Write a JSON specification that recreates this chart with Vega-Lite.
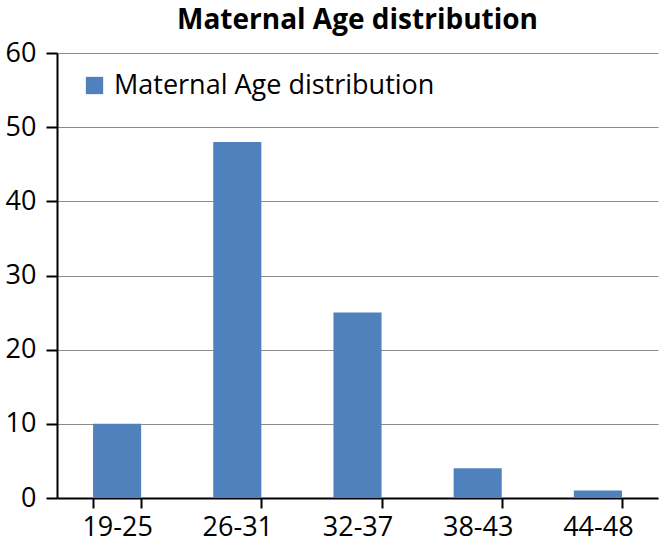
{
  "$schema": "https://vega.github.io/schema/vega-lite/v6.json",
  "autosize": "none",
  "width": 601,
  "height": 445,
  "padding": {"left": 57, "top": 53, "right": 3, "bottom": 47},
  "background": "white",
  "title": {
    "text": "Maternal Age distribution",
    "font": "Open Sans",
    "fontSize": 28,
    "fontWeight": "bold",
    "color": "black",
    "anchor": "middle",
    "offset": 4
  },
  "data": {
    "values": [
      {"age": "19-25", "count": 10, "series": "Maternal Age distribution"},
      {"age": "26-31", "count": 48, "series": "Maternal Age distribution"},
      {"age": "32-37", "count": 25, "series": "Maternal Age distribution"},
      {"age": "38-43", "count": 4, "series": "Maternal Age distribution"},
      {"age": "44-48", "count": 1, "series": "Maternal Age distribution"}
    ]
  },
  "mark": {"type": "bar"},
  "encoding": {
    "x": {
      "field": "age",
      "type": "nominal",
      "sort": null,
      "scale": {"paddingInner": 0.6, "paddingOuter": 0.3},
      "axis": {
        "title": null,
        "labelAngle": 0,
        "labelFont": "Open Sans",
        "labelFontSize": 27,
        "labelColor": "black",
        "labelPadding": 6,
        "tickBand": "extent",
        "tickSize": 10,
        "tickColor": "black",
        "tickWidth": 2,
        "domainColor": "black",
        "domainWidth": 2,
        "grid": false
      }
    },
    "y": {
      "field": "count",
      "type": "quantitative",
      "scale": {"domain": [0, 60], "nice": false},
      "axis": {
        "title": null,
        "values": [0, 10, 20, 30, 40, 50, 60],
        "labelFont": "Open Sans",
        "labelFontSize": 27,
        "labelColor": "black",
        "labelPadding": 10,
        "tickSize": 11,
        "tickColor": "black",
        "tickWidth": 2,
        "domainColor": "black",
        "domainWidth": 2,
        "grid": true,
        "gridColor": "#8c8c8c",
        "gridWidth": 1.2
      }
    },
    "color": {
      "field": "series",
      "type": "nominal",
      "scale": {"range": ["#4F81BD"]},
      "legend": {
        "title": null,
        "orient": "none",
        "legendX": 24,
        "legendY": 19,
        "symbolType": "square",
        "symbolSize": 300,
        "symbolStrokeWidth": 0,
        "labelFont": "Open Sans",
        "labelFontSize": 27,
        "labelColor": "black",
        "labelOffset": 6,
        "labelLimit": 500
      }
    }
  },
  "config": {"view": {"stroke": null}}
}
